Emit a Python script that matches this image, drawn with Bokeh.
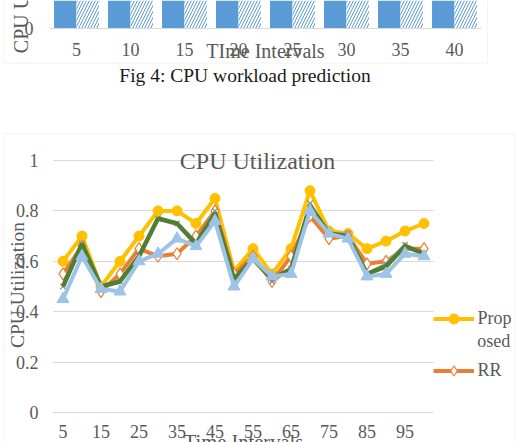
from math import pi

from bokeh.embed import file_html
from bokeh.layouts import column
from bokeh.models import (BoxAnnotation, ColumnDataSource, FixedTicker, Grid, Label,
                          Legend, LegendItem, NumeralTickFormatter, Range1d)
from bokeh.plotting import figure
from bokeh.resources import INLINE
from bokeh.transform import dodge

# ---- Fig 4: CPU workload prediction (lower strip of the chart) ----
workload_intervals = [5, 10, 15, 20, 25, 30, 35, 40]
workload_actual = [0.62, 0.70, 0.58, 0.66, 0.72, 0.78, 0.74, 0.70]
workload_predicted = [0.60, 0.68, 0.57, 0.65, 0.70, 0.77, 0.73, 0.69]

# ---- CPU Utilization per time interval ----
time_intervals = [5, 10, 15, 20, 25, 30, 35, 40, 45, 50,
                  55, 60, 65, 70, 75, 80, 85, 90, 95, 100]
proposed = [0.60, 0.70, 0.50, 0.60, 0.70, 0.80, 0.80, 0.75, 0.85, 0.56,
            0.65, 0.55, 0.65, 0.88, 0.72, 0.71, 0.65, 0.68, 0.72, 0.75]
rr = [0.55, 0.66, 0.48, 0.55, 0.65, 0.62, 0.63, 0.70, 0.80, 0.55,
      0.62, 0.52, 0.62, 0.78, 0.69, 0.70, 0.59, 0.60, 0.65, 0.65]
series_grey = [0.50, 0.67, 0.50, 0.52, 0.62, 0.77, 0.75, 0.67, 0.80, 0.53,
               0.61, 0.52, 0.57, 0.83, 0.71, 0.71, 0.55, 0.59, 0.665, 0.63]
series_green = [0.50, 0.67, 0.50, 0.52, 0.62, 0.77, 0.75, 0.67, 0.79, 0.53,
                0.61, 0.53, 0.57, 0.82, 0.71, 0.70, 0.55, 0.58, 0.66, 0.63]
series_blue = [0.45, 0.62, 0.49, 0.48, 0.60, 0.63, 0.69, 0.66, 0.76, 0.50,
               0.61, 0.54, 0.55, 0.80, 0.71, 0.69, 0.54, 0.55, 0.63, 0.62]
x_tick_values = [5, 15, 25, 35, 45, 55, 65, 75, 85, 95]
y_tick_values = [0, 0.2, 0.4, 0.6, 0.8, 1]

SERIF = "Liberation Serif"
GREY_TEXT = "#595959"
FRAME_GREY = "#d9d9d9"


def serif_label(**kw):
    kw.setdefault("text_font", SERIF)
    kw.setdefault("text_color", GREY_TEXT)
    kw.setdefault("text_align", "center")
    kw.setdefault("text_baseline", "middle")
    kw.setdefault("level", "overlay")
    return Label(**kw)


def chart_border(**kw):
    return BoxAnnotation(fill_alpha=0, line_color=FRAME_GREY, line_width=1,
                         level="overlay", **kw)


def style_axis(ax, standoff):
    ax.major_tick_out = 0
    ax.minor_tick_out = 0
    ax.major_tick_line_color = None
    ax.minor_tick_line_color = None
    ax.major_label_standoff = standoff
    ax.major_label_text_font = SERIF
    ax.major_label_text_font_size = "18px"
    ax.major_label_text_color = GREY_TEXT


# The frame spans the whole canvas; the axes sit at fixed data positions so
# the captions, titles and legend all fall inside the drawable area.

# ================= bar chart strip =================
bar_src = ColumnDataSource(dict(x=workload_intervals,
                                actual=workload_actual,
                                predicted=workload_predicted))

p1 = figure(width=519, height=125, output_backend="svg", toolbar_location=None,
            title=None, x_range=Range1d(-2.037, 46.02),
            y_range=Range1d(-0.3849, 0.1111),
            min_border_left=0, min_border_right=0, min_border_top=0,
            min_border_bottom=0)
p1.outline_line_color = None
p1.grid.visible = False

p1.vbar(x=dodge("x", -1.04, range=p1.x_range), top="actual", bottom=0, width=2.08,
        fill_color="#5B9BD5", line_color=None, source=bar_src)
p1.vbar(x=dodge("x", 1.04, range=p1.x_range), top="predicted", bottom=0, width=2.08,
        fill_color="white", line_color=None, hatch_pattern="/",
        hatch_color="#5B9BD5", hatch_scale=6, hatch_weight=1, source=bar_src)

p1.xaxis.ticker = FixedTicker(ticks=workload_intervals)
p1.xaxis.fixed_location = 0
p1.xaxis.bounds = (2.5, 42.5)
p1.xaxis.axis_line_color = FRAME_GREY
style_axis(p1.xaxis, 15)
p1.yaxis.ticker = FixedTicker(ticks=[0])
p1.yaxis.fixed_location = 2.5
p1.yaxis.axis_line_color = None
style_axis(p1.yaxis, 16)

p1.add_layout(chart_border(left=-1.759, right=43.06, bottom=-0.1377, top=0.5))
p1.add_layout(serif_label(x=22.5, y=-0.0885, text="TIme Intervals",
                          text_font_size="20px"))
p1.add_layout(serif_label(x=-0.185, y=0.159, angle=pi / 2, text="CPU Utilization",
                          text_font_size="20px"))
p1.add_layout(serif_label(x=20.6, y=-0.1865, text="Fig 4: CPU workload prediction",
                          text_font_size="19.5px", text_color="#1a1a1a"))

# ================= CPU utilization line chart =================
p2 = figure(width=519, height=317, output_backend="svg", toolbar_location=None,
            title=None, x_range=Range1d(-11.447, 125.13),
            y_range=Range1d(-0.119, 1.1389),
            min_border_left=0, min_border_right=0, min_border_top=0,
            min_border_bottom=0)
p2.outline_line_color = None
p2.xgrid.visible = False
p2.ygrid.grid_line_color = FRAME_GREY
if "cross_bounds" in Grid.properties():
    p2.ygrid.cross_bounds = (2.5, 102.5)
    gridline_glyphs = False
else:
    p2.ygrid.visible = False
    gridline_glyphs = True

if gridline_glyphs:
    p2.segment(x0=2.5, x1=102.5, y0=y_tick_values, y1=y_tick_values,
               line_color=FRAME_GREY, line_width=1)

l_prop = p2.line(time_intervals, proposed, line_color="#FFC000", line_width=4)
s_prop = p2.scatter(time_intervals, proposed, marker="circle", size=10,
                    fill_color="#FFC000", line_color="#FFC000")
l_rr = p2.line(time_intervals, rr, line_color="#ED7D31", line_width=4)
s_rr = p2.scatter(time_intervals, rr, marker="diamond", size=12,
                  fill_color="white", line_color="#ED7D31", line_width=1.2)
p2.line(time_intervals, series_grey, line_color="#A5A5A5", line_width=3)
p2.scatter(time_intervals, series_grey, marker="x", size=8,
           line_color="#8c8c8c", line_width=1.2)
p2.line(time_intervals, series_green, line_color="#507E32", line_width=4.5)
p2.line(time_intervals, series_blue, line_color="#9DC3E6", line_width=4)
p2.scatter(time_intervals, series_blue, marker="triangle", size=12,
           fill_color="#9DC3E6", line_color="#9DC3E6")

p2.xaxis.ticker = FixedTicker(ticks=x_tick_values)
p2.xaxis.fixed_location = 0
p2.xaxis.bounds = (2.5, 102.5)
p2.xaxis.axis_line_color = FRAME_GREY
style_axis(p2.xaxis, 12)
p2.yaxis.ticker = FixedTicker(ticks=y_tick_values)
p2.yaxis.formatter = NumeralTickFormatter(format="0.[0]")
p2.yaxis.fixed_location = 2.5
p2.yaxis.axis_line_color = None
style_axis(p2.yaxis, 15)

legend = Legend(items=[LegendItem(label="Prop", renderers=[l_prop, s_prop]),
                       LegendItem(label="RR", renderers=[l_rr, s_rr])],
                location=(432.5, 59.5), orientation="vertical",
                glyph_width=41, glyph_height=25, label_height=25, spacing=27,
                padding=0, margin=0, label_standoff=4,
                border_line_color=None, background_fill_alpha=0,
                label_text_font=SERIF, label_text_font_size="18px",
                label_text_color=GREY_TEXT, level="overlay")
p2.add_layout(legend)
p2.add_layout(serif_label(x=114.0, y=0.2857, text="osed", text_align="left",
                          text_font_size="18px"))

p2.add_layout(chart_border(left=-10.66, right=123.8, top=1.1071, bottom=-0.5))
p2.add_layout(serif_label(x=56.18, y=0.998, text="CPU Utilization",
                          text_font_size="24px"))
p2.add_layout(serif_label(x=-6.842, y=0.506, angle=pi / 2, text="CPU Utilization",
                          text_font_size="19.5px"))
p2.add_layout(serif_label(x=52.5, y=-0.1183, text="Time Intervals",
                          text_font_size="20.5px"))

page = column(p1, p2, spacing=0)
open("out.html", "w").write(file_html(page, INLINE))
